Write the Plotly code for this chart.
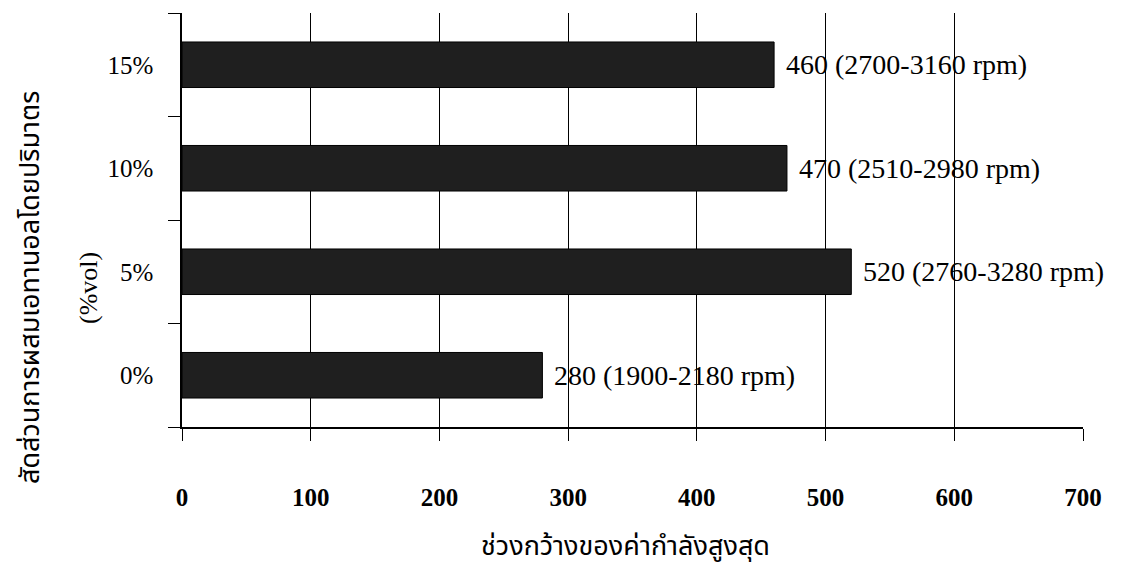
import plotly.graph_objects as go

# Ethanol blend ratios (bottom to top) and width of the peak-power band
blend = ["0%", "5%", "10%", "15%"]
band_width = [280, 520, 470, 460]
rpm_range = ["1900-2180", "2760-3280", "2510-2980", "2700-3160"]
x_ticks = [0, 100, 200, 300, 400, 500, 600, 700]

serif = "Liberation Serif, Times New Roman, serif"
thai = "Noto Sans Thai, Tlwg Typo, Loma, Garuda, Norasi, Liberation Serif, serif"

pos = list(range(len(blend)))
plot_w, plot_h = 901, 414  # plotting area in pixels

fig = go.Figure()
fig.add_trace(go.Bar(
    x=band_width,
    y=pos,
    orientation="h",
    width=0.44,
    marker=dict(color="#1f1f1f", line=dict(color="#000000", width=1)),
    hoverinfo="x",
))

# value labels to the right of each bar
for p, v, r in zip(pos, band_width, rpm_range):
    fig.add_annotation(
        x=v, y=p, xref="x", yref="y",
        text=f"{v} ({r} rpm)",
        showarrow=False, xanchor="left", yanchor="middle", xshift=10,
        font=dict(family=serif, size=28, color="#000000"),
    )

# two-line rotated y-axis title
fig.add_annotation(
    x=(30 - 182) / plot_w, y=(427 - 288) / plot_h, xref="paper", yref="paper",
    text="สัดส่วนการผสมเอทานอลโดยปริมาตร",
    textangle=-90, showarrow=False, xanchor="center", yanchor="middle",
    font=dict(family=thai, size=27, color="#000000"),
)
fig.add_annotation(
    x=(88 - 182) / plot_w, y=(427 - 288) / plot_h, xref="paper", yref="paper",
    text="(%vol)",
    textangle=-90, showarrow=False, xanchor="center", yanchor="middle",
    font=dict(family=serif, size=26, color="#000000"),
)
# x-axis title
fig.add_annotation(
    x=(625 - 182) / plot_w, y=-(546 - 427) / plot_h, xref="paper", yref="paper",
    text="ช่วงกว้างของค่ากำลังสูงสุด",
    showarrow=False, xanchor="center", yanchor="middle",
    font=dict(family=thai, size=27, color="#000000"),
)

fig.update_xaxes(
    range=[0, 700],
    tickvals=x_ticks,
    ticktext=[str(t) for t in x_ticks],
    tickfont=dict(family=serif, size=25, color="#000000", weight="bold"),
    ticks="outside", ticklen=12, tickcolor="#000000", tickwidth=1,
    ticklabelstandoff=35,
    showgrid=True, gridcolor="#000000", gridwidth=1,
    showline=True, linecolor="#000000", linewidth=1.5,
    zeroline=False,
)
fig.update_yaxes(
    range=[-0.5, 3.5],
    tickvals=pos,
    ticktext=blend,
    ticks="",
    tickfont=dict(family=serif, size=25, color="#000000"),
    ticklabelstandoff=22,
    minor=dict(tickvals=[-0.5, 0.5, 1.5, 2.5, 3.5], ticks="outside",
               ticklen=12, tickcolor="#000000", tickwidth=1, showgrid=False),
    showgrid=False,
    showline=True, linecolor="#000000", linewidth=1.5,
    zeroline=False,
)

fig.update_layout(
    width=1121, height=569,
    margin=dict(l=182, r=38, t=13, b=142),
    plot_bgcolor="#ffffff", paper_bgcolor="#ffffff",
    showlegend=False,
    bargap=0.56,
)

fig.write_html("out.html")
